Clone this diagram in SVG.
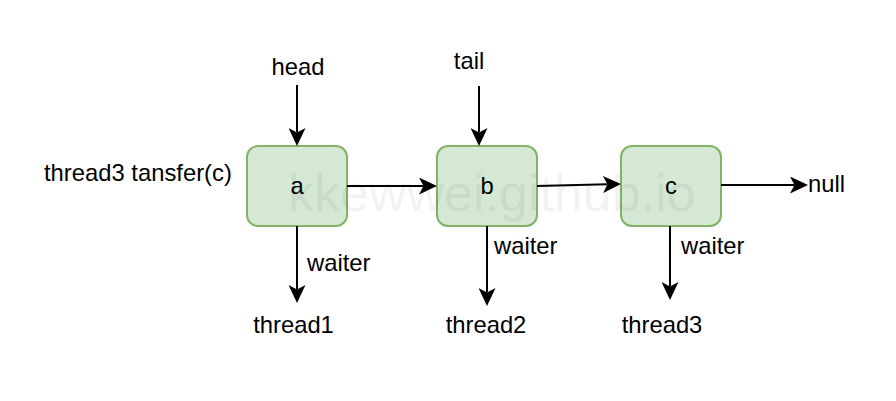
<svg xmlns="http://www.w3.org/2000/svg" width="896" height="401" viewBox="0 0 896 401">
<style>
text{font-family:"Liberation Sans",Arial,Helvetica,sans-serif;font-size:23.8px;fill:#000}
.node rect{fill:#d5e8d4;stroke:#82b366;stroke-width:2}
.mid{text-anchor:middle}
#connectors line{stroke:#000;stroke-width:2;marker-end:url(#arr)}
</style>
<defs>
<marker id="arr" markerUnits="userSpaceOnUse" markerWidth="19" markerHeight="17" viewBox="0 0 18 17" refX="4.5" refY="8.5" orient="auto">
<path d="M0,0 L18,8.5 L0,17 L4.5,8.5 Z" fill="#000"/>
</marker>
</defs>
<rect width="896" height="401" fill="#fff"/>
<g id="node-a" class="node"><rect x="247" y="146" width="100" height="80" rx="11"/><text class="mid" x="297" y="194">a</text></g>
<g id="node-b" class="node"><rect x="437" y="146" width="100" height="80" rx="11"/><text class="mid" x="487" y="194">b</text></g>
<g id="node-c" class="node"><rect x="621" y="146" width="100" height="80" rx="11"/><text class="mid" x="671" y="194">c</text></g>
<g id="connectors">
<line x1="297" y1="85" x2="297" y2="132.5"/>
<line x1="479" y1="86" x2="479" y2="132.5"/>
<line x1="347" y1="186" x2="423.5" y2="186"/>
<line x1="537" y1="186" x2="607.5" y2="184.3"/>
<line x1="721" y1="185" x2="794.5" y2="185"/>
<line x1="297" y1="226" x2="297" y2="289.5"/>
<line x1="487" y1="226" x2="487" y2="292.5"/>
<line x1="670" y1="226" x2="670" y2="286.5"/>
</g>
<g id="labels">
<text class="mid" x="298" y="75">head</text>
<text class="mid" x="469" y="69">tail</text>
<text x="44" y="181">thread3 tansfer(c)</text>
<text x="808" y="192">null</text>
<text x="307" y="271">waiter</text>
<text x="494" y="254">waiter</text>
<text x="681" y="254">waiter</text>
<text class="mid" x="293.5" y="333">thread1</text>
<text class="mid" x="486" y="333">thread2</text>
<text class="mid" x="662" y="333">thread3</text>
</g>
<text x="288" y="211" style="font-size:52px;fill:#000;fill-opacity:0.05">kkewwei.github.io</text>
</svg>
